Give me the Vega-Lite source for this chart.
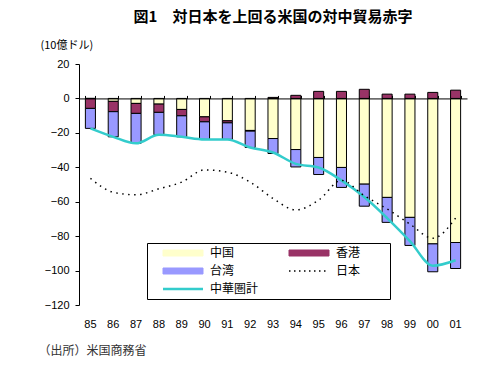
{
  "$schema": "https://vega.github.io/schema/vega-lite/v6.json",
  "width": 388,
  "height": 241,
  "autosize": {"type": "none"},
  "padding": {"left": 79, "top": 64, "right": 29, "bottom": 65},
  "background": "#ffffff",
  "title": {
    "text": "図1　対日本を上回る米国の対中貿易赤字",
    "anchor": "middle",
    "frame": "group",
    "offset": 14,
    "fontSize": 15,
    "fontWeight": "bold",
    "font": "Noto Sans CJK JP",
    "color": "#000000"
  },
  "config": {
    "view": {"stroke": null},
    "axis": {
      "labelFont": "Liberation Sans",
      "labelFontSize": 11,
      "labelColor": "#000000",
      "domainColor": "#000000",
      "tickColor": "#000000",
      "grid": false
    },
    "legend": {
      "orient": "none",
      "legendX": 68,
      "legendY": 179,
      "titleOrient": "right",
      "titlePadding": 26,
      "titleFontSize": 12,
      "columns": 2,
      "direction": "horizontal",
      "gridAlign": "all",
      "strokeColor": "#000000",
      "fillColor": "#ffffff",
      "padding": 4,
      "rowPadding": 6,
      "columnPadding": 18,
      "symbolSize": 100,
      "symbolOffset": 26,
      "labelOffset": 21,
      "labelFont": "Noto Sans CJK JP",
      "labelFontSize": 12,
      "labelColor": "#000000"
    }
  },
  "datasets": {
    "bars": [
      {"year": 1985, "series": "中国", "value": 0.0},
      {"year": 1985, "series": "香港", "value": -5.8},
      {"year": 1985, "series": "台湾", "value": -11.6},
      {"year": 1986, "series": "中国", "value": -1.7},
      {"year": 1986, "series": "香港", "value": -6.0},
      {"year": 1986, "series": "台湾", "value": -14.6},
      {"year": 1987, "series": "中国", "value": -2.9},
      {"year": 1987, "series": "香港", "value": -5.8},
      {"year": 1987, "series": "台湾", "value": -17.4},
      {"year": 1988, "series": "中国", "value": -3.3},
      {"year": 1988, "series": "香港", "value": -4.8},
      {"year": 1988, "series": "台湾", "value": -13.0},
      {"year": 1989, "series": "中国", "value": -6.4},
      {"year": 1989, "series": "香港", "value": -3.7},
      {"year": 1989, "series": "台湾", "value": -12.2},
      {"year": 1990, "series": "中国", "value": -10.7},
      {"year": 1990, "series": "香港", "value": -2.9},
      {"year": 1990, "series": "台湾", "value": -10.2},
      {"year": 1991, "series": "中国", "value": -13.0},
      {"year": 1991, "series": "香港", "value": -1.2},
      {"year": 1991, "series": "台湾", "value": -9.6},
      {"year": 1992, "series": "中国", "value": -18.6},
      {"year": 1992, "series": "香港", "value": -0.4},
      {"year": 1992, "series": "台湾", "value": -9.5},
      {"year": 1993, "series": "中国", "value": -23.3},
      {"year": 1993, "series": "香港", "value": 0.6},
      {"year": 1993, "series": "台湾", "value": -8.7},
      {"year": 1994, "series": "中国", "value": -29.7},
      {"year": 1994, "series": "香港", "value": 1.8},
      {"year": 1994, "series": "台湾", "value": -10.1},
      {"year": 1995, "series": "中国", "value": -34.3},
      {"year": 1995, "series": "香港", "value": 4.1},
      {"year": 1995, "series": "台湾", "value": -9.9},
      {"year": 1996, "series": "中国", "value": -40.1},
      {"year": 1996, "series": "香港", "value": 4.1},
      {"year": 1996, "series": "台湾", "value": -11.6},
      {"year": 1997, "series": "中国", "value": -49.8},
      {"year": 1997, "series": "香港", "value": 5.3},
      {"year": 1997, "series": "台湾", "value": -12.8},
      {"year": 1998, "series": "中国", "value": -57.5},
      {"year": 1998, "series": "香港", "value": 2.5},
      {"year": 1998, "series": "台湾", "value": -14.5},
      {"year": 1999, "series": "中国", "value": -69.1},
      {"year": 1999, "series": "香港", "value": 2.5},
      {"year": 1999, "series": "台湾", "value": -16.3},
      {"year": 2000, "series": "中国", "value": -84.5},
      {"year": 2000, "series": "香港", "value": 3.5},
      {"year": 2000, "series": "台湾", "value": -16.2},
      {"year": 2001, "series": "中国", "value": -83.7},
      {"year": 2001, "series": "香港", "value": 4.8},
      {"year": 2001, "series": "台湾", "value": -15.1}
    ],
    "lines": [
      {"year": 1985, "japan": -46.4, "total": -17.4},
      {"year": 1986, "japan": -54.5, "total": -22.3},
      {"year": 1987, "japan": -56.0, "total": -26.1},
      {"year": 1988, "japan": -52.5, "total": -21.1},
      {"year": 1989, "japan": -48.6, "total": -22.3},
      {"year": 1990, "japan": -41.5, "total": -23.8},
      {"year": 1991, "japan": -42.8, "total": -23.8},
      {"year": 1992, "japan": -48.6, "total": -28.5},
      {"year": 1993, "japan": -58.1, "total": -31.4},
      {"year": 1994, "japan": -64.8, "total": -38.0},
      {"year": 1995, "japan": -59.1, "total": -40.1},
      {"year": 1996, "japan": -47.6, "total": -47.6},
      {"year": 1997, "japan": -56.5, "total": -57.3},
      {"year": 1998, "japan": -64.2, "total": -69.5},
      {"year": 1999, "japan": -73.0, "total": -82.9},
      {"year": 2000, "japan": -81.2, "total": -97.2},
      {"year": 2001, "japan": -69.5, "total": -94.0}
    ]
  },
  "resolve": {"axis": {"x": "independent", "y": "independent"}},
  "layer": [
    {
      "data": {"name": "bars"},
      "transform": [
        {"calculate": "indexof(['中国', '香港', '台湾'], datum.series)", "as": "stackOrder"}
      ],
      "mark": {"type": "bar", "stroke": "#000000", "strokeWidth": 1},
      "encoding": {
        "x": {
          "field": "year",
          "type": "ordinal",
          "scale": {"paddingInner": 0.56, "paddingOuter": 0.28},
          "axis": {
            "orient": "bottom",
            "domain": false,
            "ticks": false,
            "labelAngle": 0,
            "labelPadding": 13,
            "labelExpr": "substring(datum.label, 2)",
            "title": "（出所）米国商務省",
            "titleX": -41,
            "titleY": 45,
            "titleAlign": "left",
            "titleBaseline": "middle",
            "titleFont": "Noto Sans CJK JP",
            "titleFontSize": 12,
            "titleFontWeight": "normal",
            "titleColor": "#333333"
          }
        },
        "y": {
          "aggregate": "sum",
          "field": "value",
          "type": "quantitative",
          "stack": "zero",
          "scale": {"domain": [-120, 20], "nice": false},
          "axis": {
            "values": [20, 0, -20, -40, -60, -80, -100, -120],
            "labelOverlap": false,
            "tickSize": 4,
            "labelPadding": 6,
            "title": "(10億ドル)",
            "titleAngle": 0,
            "titleAlign": "left",
            "titleBaseline": "middle",
            "titleX": -39,
            "titleY": -19,
            "titleFont": "Noto Sans CJK JP",
            "titleFontSize": 11,
            "titleFontWeight": "normal",
            "titleColor": "#000000"
          }
        },
        "order": {"field": "stackOrder", "type": "quantitative", "sort": "ascending"},
        "color": {
          "field": "series",
          "type": "nominal",
          "title": " ",
          "scale": {
            "domain": ["中国", "香港", "台湾", "日本", "中華圏計"],
            "range": ["#FFFFCC", "#993366", "#9999FF", "#000000", "#33CCCC"]
          },
          "legend": {
            "title": " ",
            "encode": {
              "legend": {"update": {"stroke": {"value": "#000000"}, "strokeWidth": {"value": 1}, "fill": {"value": "#ffffff"}}},
              "symbols": {
                "update": {
                  "shape": {"signal": "(datum.value == '日本' || datum.value == '中華圏計') ? 'M-1,0H1' : 'M-1,-0.15H1V0.15H-1Z'"},
                  "fill": {"signal": "datum.value == '中国' ? '#FFFFCC' : datum.value == '香港' ? '#993366' : datum.value == '台湾' ? '#9999FF' : 'transparent'"},
                  "stroke": {"signal": "datum.value == '中華圏計' ? '#33CCCC' : '#000000'"},
                  "strokeWidth": {"signal": "datum.value == '中華圏計' ? 2.5 : (datum.value == '日本' ? 1.5 : 1)"},
                  "strokeDash": {"signal": "datum.value == '日本' ? [1.5, 3.5] : [1, 0]"},
                  "opacity": {"value": 1},
                  "size": {"value": 1600}
                }
              }
            }
          }
        }
      }
    },
    {
      "data": {"name": "lines"},
      "mark": {"type": "line", "interpolate": "monotone", "strokeWidth": 2.5},
      "encoding": {
        "x": {
          "field": "year",
          "type": "ordinal",
          "axis": {
            "orient": "top",
            "offset": -34.43,
            "labels": false,
            "title": null,
            "domain": true,
            "ticks": true,
            "tickBand": "extent",
            "tickSize": 3,
            "zindex": 1
          }
        },
        "y": {"field": "total", "type": "quantitative", "axis": null},
        "color": {
          "datum": "中華圏計",
          "title": " ",
          "legend": {
            "title": " ",
            "encode": {
              "legend": {"update": {"stroke": {"value": "#000000"}, "strokeWidth": {"value": 1}, "fill": {"value": "#ffffff"}}},
              "symbols": {
                "update": {
                  "shape": {"signal": "(datum.value == '日本' || datum.value == '中華圏計') ? 'M-1,0H1' : 'M-1,-0.15H1V0.15H-1Z'"},
                  "fill": {"signal": "datum.value == '中国' ? '#FFFFCC' : datum.value == '香港' ? '#993366' : datum.value == '台湾' ? '#9999FF' : 'transparent'"},
                  "stroke": {"signal": "datum.value == '中華圏計' ? '#33CCCC' : '#000000'"},
                  "strokeWidth": {"signal": "datum.value == '中華圏計' ? 2.5 : (datum.value == '日本' ? 1.5 : 1)"},
                  "strokeDash": {"signal": "datum.value == '日本' ? [1.5, 3.5] : [1, 0]"},
                  "opacity": {"value": 1},
                  "size": {"value": 1600}
                }
              }
            }
          }
        }
      }
    },
    {
      "data": {"name": "lines"},
      "mark": {"type": "line", "interpolate": "monotone", "strokeWidth": 1.5, "strokeDash": [1.5, 4.5]},
      "encoding": {
        "x": {"field": "year", "type": "ordinal", "axis": null},
        "y": {"field": "japan", "type": "quantitative", "axis": null},
        "color": {
          "datum": "日本",
          "title": " ",
          "legend": {
            "title": " ",
            "encode": {
              "legend": {"update": {"stroke": {"value": "#000000"}, "strokeWidth": {"value": 1}, "fill": {"value": "#ffffff"}}},
              "symbols": {
                "update": {
                  "shape": {"signal": "(datum.value == '日本' || datum.value == '中華圏計') ? 'M-1,0H1' : 'M-1,-0.15H1V0.15H-1Z'"},
                  "fill": {"signal": "datum.value == '中国' ? '#FFFFCC' : datum.value == '香港' ? '#993366' : datum.value == '台湾' ? '#9999FF' : 'transparent'"},
                  "stroke": {"signal": "datum.value == '中華圏計' ? '#33CCCC' : '#000000'"},
                  "strokeWidth": {"signal": "datum.value == '中華圏計' ? 2.5 : (datum.value == '日本' ? 1.5 : 1)"},
                  "strokeDash": {"signal": "datum.value == '日本' ? [1.5, 3.5] : [1, 0]"},
                  "opacity": {"value": 1},
                  "size": {"value": 1600}
                }
              }
            }
          }
        }
      }
    }
  ]
}
